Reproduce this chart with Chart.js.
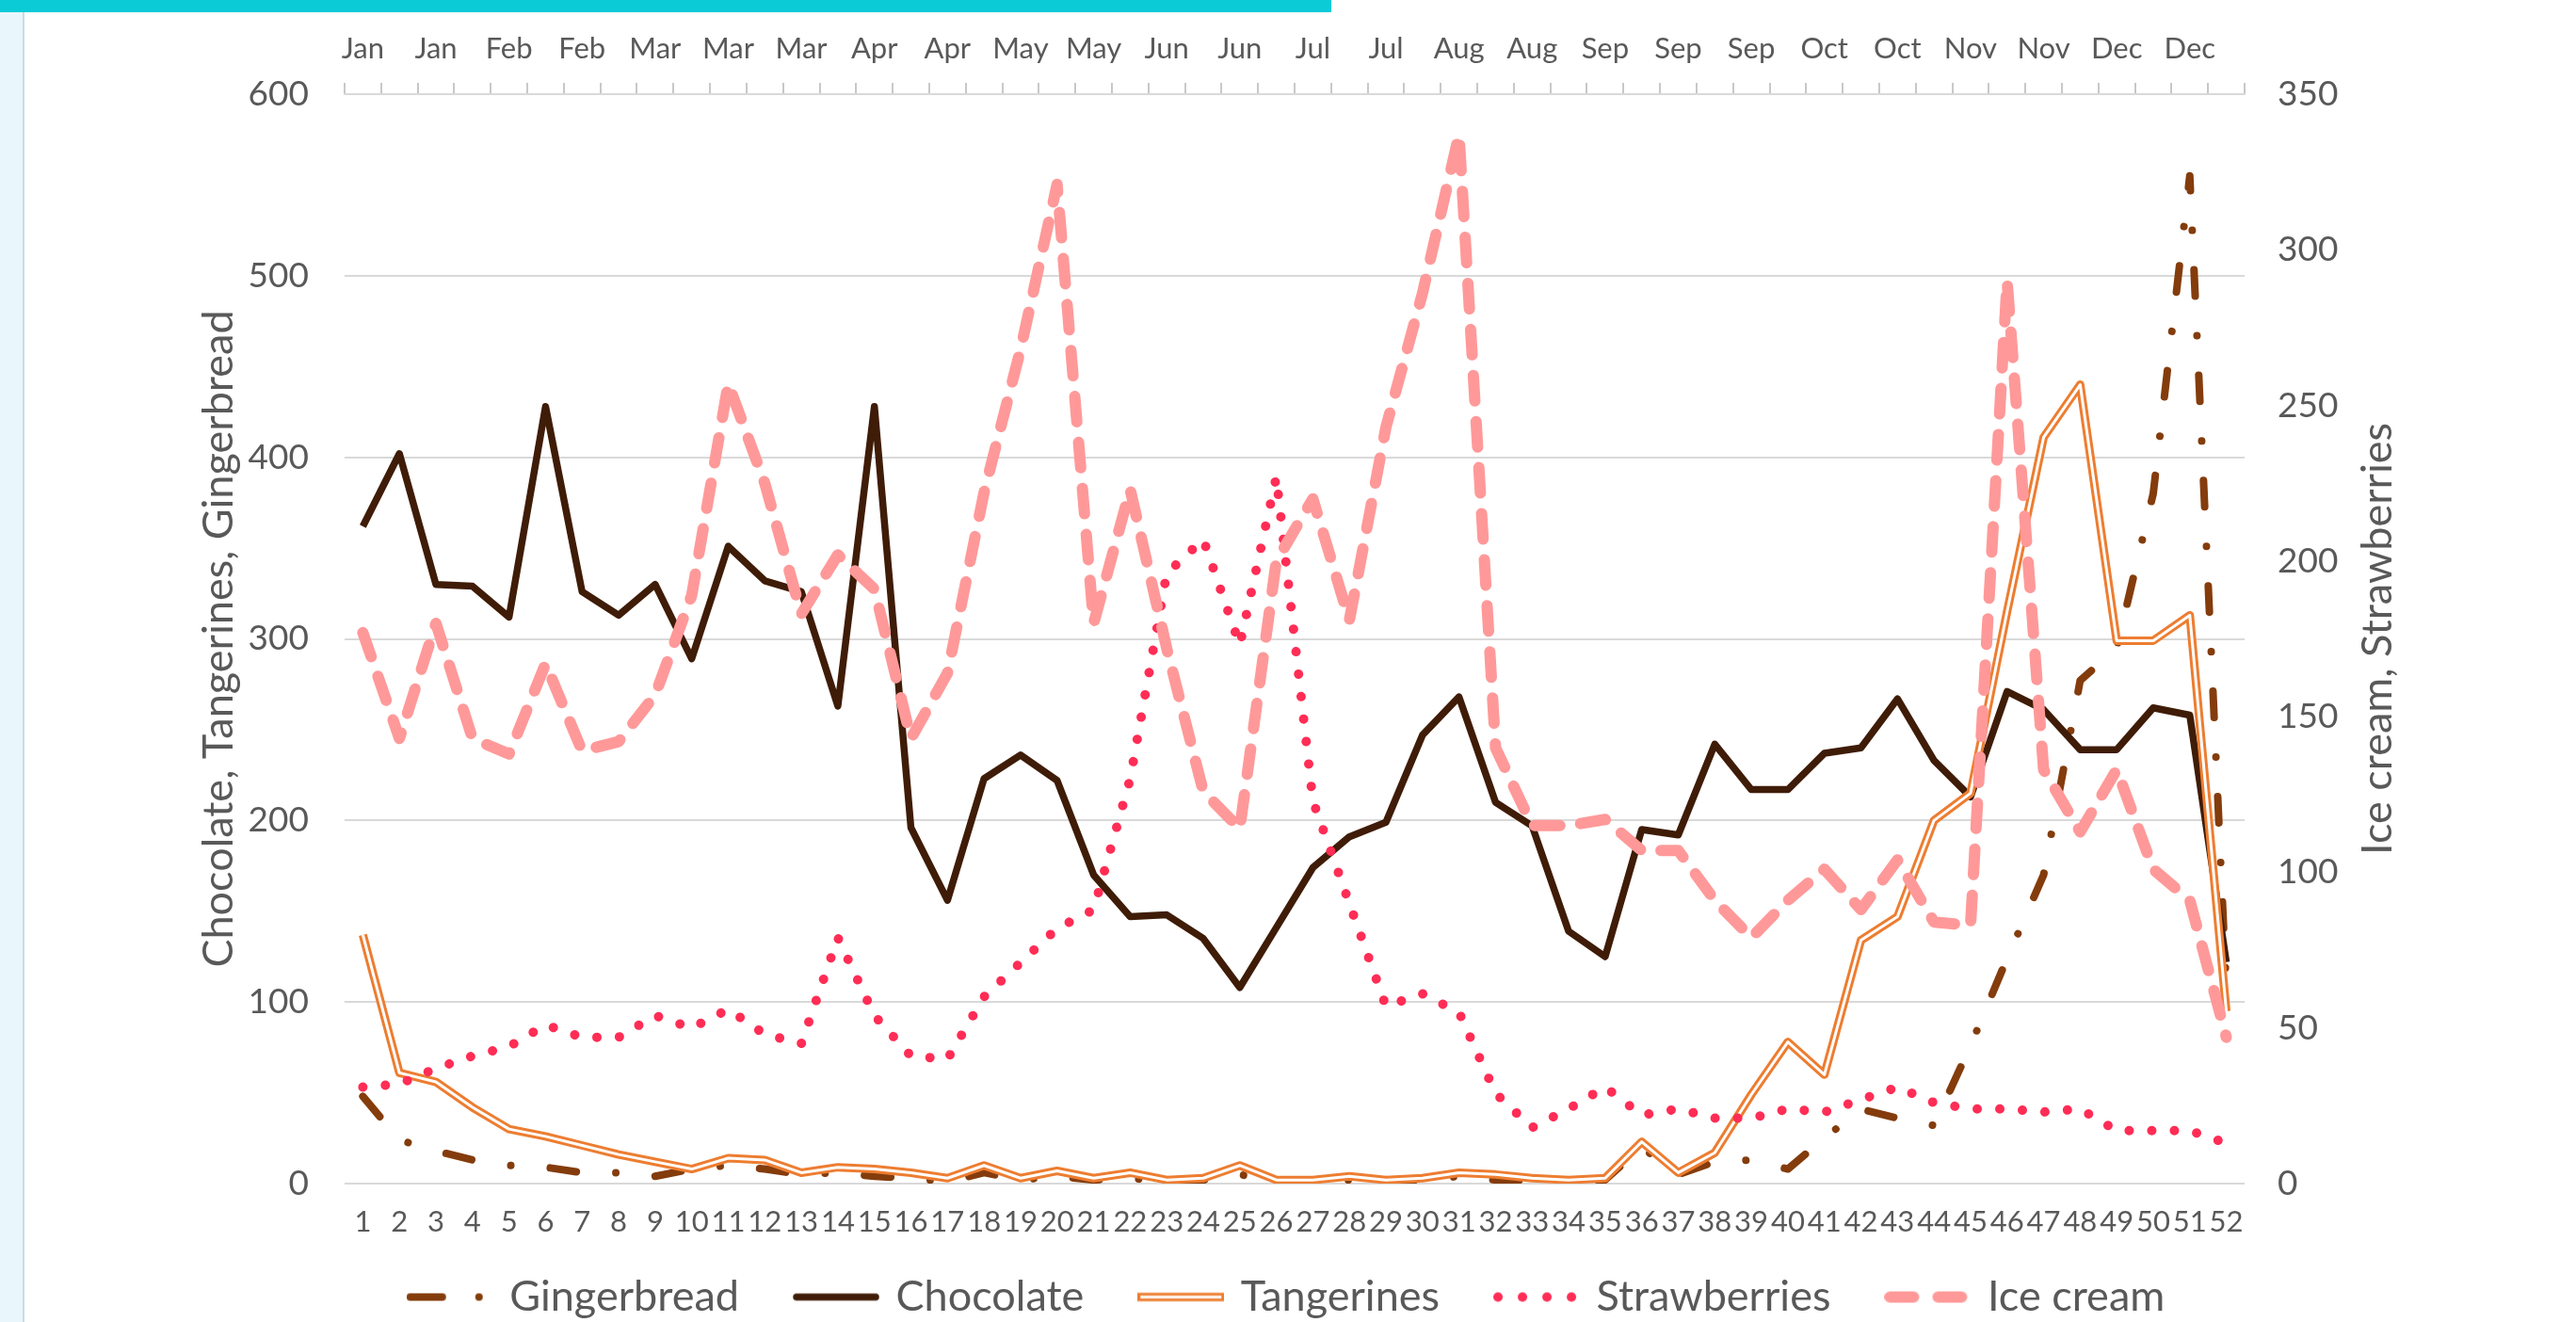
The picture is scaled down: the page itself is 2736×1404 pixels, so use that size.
<!DOCTYPE html>
<html>
<head>
<meta charset="utf-8">
<title>Weekly sales</title>
<script src="https://cdn.jsdelivr.net/npm/chart.js@4.4.1/dist/chart.umd.min.js"></script>
<style>
  html, body { margin: 0; padding: 0; background: #fff; }
  body { width: 2736px; height: 1404px; position: relative; overflow: hidden; }
  .topbar { position: absolute; left: 0; top: 0; width: 1414px; height: 13px; background: #0BCBD7; }
  .sidebar { position: absolute; left: 0; top: 13px; bottom: 0; width: 24px; background: #E9F6FB; border-right: 2px solid #C9DCE3; }
  #chart { position: absolute; left: 0; top: 0; }
</style>
</head>
<body>
<div class="sidebar"></div>
<div class="topbar"></div>
<canvas id="chart" width="2736" height="1404"></canvas>
<script>
const weeks = [1, 2, 3, 4, 5, 6, 7, 8, 9, 10, 11, 12, 13, 14, 15, 16, 17, 18, 19, 20, 21, 22, 23, 24, 25, 26,
  27, 28, 29, 30, 31, 32, 33, 34, 35, 36, 37, 38, 39, 40, 41, 42, 43, 44, 45, 46, 47, 48, 49, 50, 51, 52];
// month shown above every second week
const monthTicks = ["Jan", "Jan", "Feb", "Feb", "Mar", "Mar", "Mar", "Apr", "Apr", "May", "May", "Jun", "Jun",
  "Jul", "Jul", "Aug", "Aug", "Sep", "Sep", "Sep", "Oct", "Oct", "Nov", "Nov", "Dec", "Dec"];

const gingerbread = [48, 24, 18, 13, 10, 9, 6, 6, 4, 8, 10, 8, 5, 6, 4, 3, 1, 6, 2, 4, 2, 3, 1, 2, 5, 1,
  1, 2, 1, 2, 4, 2, 2, 1, 2, 20, 5, 12, 13, 8, 25, 41, 36, 32, 76, 124, 170, 277, 295, 380, 555, 108];
const chocolate = [362, 402, 330, 329, 312, 428, 326, 313, 330, 289, 351, 332, 326, 263, 428, 196, 156, 223, 236, 222, 170, 147, 148, 135, 108, 141,
  174, 191, 199, 247, 268, 210, 197, 139, 125, 195, 192, 242, 217, 217, 237, 240, 267, 233, 213, 271, 261, 239, 239, 262, 258, 122];
const tangerines = [137, 61, 56, 42, 30, 26, 21, 16, 12, 8, 14, 13, 6, 9, 8, 6, 3, 10, 3, 7, 3, 6, 2, 3, 10, 2,
  2, 4, 2, 3, 6, 5, 3, 2, 3, 23, 6, 17, 49, 78, 60, 134, 147, 200, 215, 315, 411, 440, 299, 299, 313, 95];
const strawberries = [31, 32, 37, 41, 44, 51, 47, 47, 54, 50, 56, 48, 45, 79, 54, 41, 40, 60, 71, 82, 88, 130, 196, 207, 173, 227,
  123, 90, 57, 61, 55, 29, 18, 24, 31, 22, 24, 21, 21, 24, 23, 27, 31, 26, 24, 24, 23, 24, 17, 17, 17, 13];
const iceCream = [177, 143, 180, 143, 138, 167, 139, 142, 157, 189, 257, 225, 183, 202, 191, 143, 164, 222, 268, 321, 180, 223, 172, 126, 114, 200,
  220, 181, 243, 286, 337, 140, 115, 115, 117, 107, 107, 91, 79, 91, 101, 88, 104, 84, 83, 290, 133, 113, 133, 101, 91, 47];

const textColor = "#595959";
const fontFamily = "Lato, 'Open Sans', sans-serif";

// little pictures of each line style for the legend
function sample(draw) {
  const c = document.createElement("canvas");
  c.width = 92;
  c.height = 16;
  const g = c.getContext("2d");
  g.lineCap = "round";
  draw(g);
  return c;
}
const gingerSample = sample(g => {
  g.strokeStyle = "#843C0C"; g.lineWidth = 8;
  g.beginPath(); g.moveTo(4, 8); g.lineTo(38, 8); g.stroke();
  g.fillStyle = "#843C0C"; g.beginPath(); g.arc(77, 8, 4, 0, Math.PI * 2); g.fill();
});
const chocoSample = sample(g => {
  g.strokeStyle = "#3F1C07"; g.lineWidth = 7.5;
  g.beginPath(); g.moveTo(4, 8); g.lineTo(88, 8); g.stroke();
});
const tangSample = sample(g => {
  g.lineCap = "butt";
  g.strokeStyle = "#ED7D31"; g.lineWidth = 9;
  g.beginPath(); g.moveTo(0, 8); g.lineTo(92, 8); g.stroke();
  g.strokeStyle = "#FFFFFF"; g.lineWidth = 3;
  g.beginPath(); g.moveTo(3, 8); g.lineTo(89, 8); g.stroke();
});
const strawSample = sample(g => {
  g.fillStyle = "#FF2D55";
  [5, 31, 57, 83].forEach(x => { g.beginPath(); g.arc(x, 8, 5, 0, Math.PI * 2); g.fill(); });
});
const iceSample = sample(g => {
  g.strokeStyle = "#FF9999"; g.lineWidth = 12;
  g.beginPath(); g.moveTo(6, 8); g.lineTo(31, 8); g.moveTo(57, 8); g.lineTo(82, 8); g.stroke();
});

// rotated axis titles, both reading bottom to top
const axisTitles = {
  id: "axisTitles",
  afterDraw(chart) {
    const { ctx, chartArea } = chart;
    const mid = (chartArea.top + chartArea.bottom) / 2;
    ctx.save();
    ctx.font = "45px " + fontFamily;
    ctx.fillStyle = textColor;
    ctx.textAlign = "center";
    ctx.textBaseline = "middle";
    [[chartArea.left - 134, "Chocolate, Tangerines, Gingerbread"],
     [chartArea.right + 141, "Ice cream, Strawberries"]].forEach(([x, t]) => {
      ctx.save();
      ctx.translate(x, mid);
      ctx.rotate(-Math.PI / 2);
      ctx.fillText(t, 0, 0);
      ctx.restore();
    });
    ctx.restore();
  }
};

// pull the legend up a bit so the week numbers below the axis get room
const legendLift = {
  id: "legendLift",
  afterLayout(chart) {
    const l = chart.legend;
    l.top -= 26;
    l.bottom -= 26;
  }
};

const tickFont = { family: fontFamily, size: 31 };
const valueFont = { family: fontFamily, size: 37 };

new Chart(document.getElementById("chart"), {
  type: "line",
  data: {
    labels: weeks,
    datasets: [
      {
        label: "Gingerbread",
        data: gingerbread,
        yAxisID: "y",
        borderColor: "#843C0C",
        borderWidth: 8,
        borderDash: [28, 42, 0.01, 42],
        borderCapStyle: "round",
        pointStyle: gingerSample,
        order: 5,
      },
      {
        label: "Chocolate",
        data: chocolate,
        yAxisID: "y",
        borderColor: "#3F1C07",
        borderWidth: 7.5,
        pointStyle: chocoSample,
        order: 4,
      },
      {
        label: "Tangerines",
        data: tangerines,
        yAxisID: "y",
        borderColor: "#ED7D31",
        borderWidth: 9,
        pointStyle: tangSample,
        order: 3,
      },
      {
        // white core that makes the double line
        label: "Tangerines core",
        data: tangerines,
        yAxisID: "y",
        borderColor: "#FFFFFF",
        borderWidth: 3,
        order: 2,
      },
      {
        label: "Strawberries",
        data: strawberries,
        yAxisID: "y1",
        borderColor: "#FF2D55",
        borderWidth: 10,
        borderDash: [0.01, 24],
        borderCapStyle: "round",
        pointStyle: strawSample,
        order: 1,
      },
      {
        label: "Ice cream",
        data: iceCream,
        yAxisID: "y1",
        borderColor: "#FF9999",
        borderWidth: 12,
        borderDash: [27, 22],
        borderCapStyle: "round",
        pointStyle: iceSample,
        order: 0,
      },
    ],
  },
  options: {
    responsive: false,
    animation: false,
    layout: { padding: { left: 0, right: 0, top: 0, bottom: -32 } },
    elements: {
      line: { tension: 0, borderJoinStyle: "round" },
      point: { radius: 0, hoverRadius: 0 },
    },
    scales: {
      x: {
        type: "category",
        offset: true,
        grid: { display: false, drawTicks: false },
        border: { display: false },
        ticks: { font: tickFont, color: textColor, autoSkip: false, maxRotation: 0, padding: 22 },
        afterFit: s => { s.height = 62; },
      },
      x2: {
        type: "category",
        position: "top",
        labels: weeks.map((w, i) => (i % 2 === 0 ? monthTicks[i / 2] : "")),
        offset: true,
        grid: { offset: true, drawOnChartArea: false, tickLength: 12, color: "#C8C8C8", lineWidth: 2 },
        border: { display: true, color: "#D9D9D9", width: 2 },
        ticks: { font: tickFont, color: textColor, autoSkip: false, maxRotation: 0, padding: 17 },
        afterFit: s => { s.height = 100; },
      },
      y: {
        position: "left",
        min: 0,
        max: 600,
        grid: { color: "#D9D9D9", lineWidth: 2, drawTicks: false },
        border: { display: false },
        ticks: { stepSize: 100, font: valueFont, color: textColor, padding: 38 },
        afterFit: s => { s.width = 366; },
      },
      y1: {
        position: "right",
        min: 0,
        max: 350,
        grid: { drawOnChartArea: false, drawTicks: false },
        border: { display: false },
        ticks: { stepSize: 50, font: valueFont, color: textColor, padding: 35 },
        afterFit: s => { s.width = 352; },
      },
    },
    plugins: {
      legend: {
        position: "bottom",
        labels: {
          usePointStyle: true,
          pointStyleWidth: 82,
          font: { family: fontFamily, size: 45 },
          color: textColor,
          padding: 62,
          filter: item => item.datasetIndex !== 3,
          sort: (a, b) => a.datasetIndex - b.datasetIndex,
        },
      },
      tooltip: { enabled: false },
    },
  },
  plugins: [axisTitles, legendLift],
});
</script>
</body>
</html>
